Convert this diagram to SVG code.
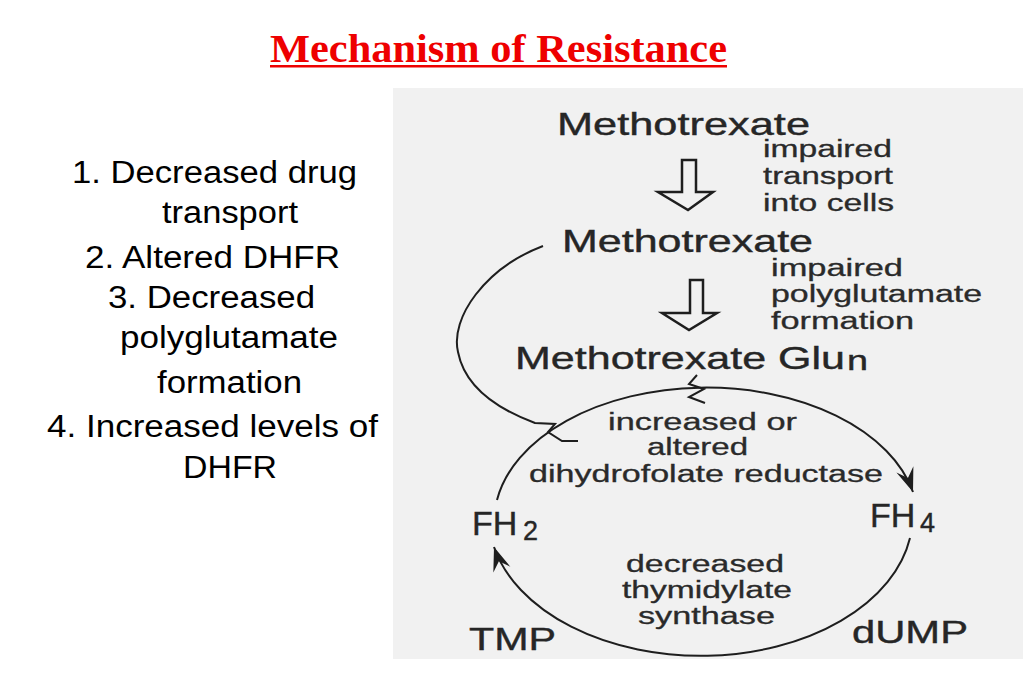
<svg xmlns="http://www.w3.org/2000/svg" width="1023" height="682" viewBox="0 0 1023 682">
<defs>
<style>
.title{font-family:"Liberation Serif",serif;font-weight:bold;font-size:41px;fill:#ee0000}
.list{font-family:"Liberation Sans",Arial,sans-serif;font-size:31px;fill:#000}
.big{font-family:"Liberation Sans",Arial,sans-serif;font-size:32px;fill:#262626;stroke:#262626;stroke-width:0.4}
.fh{font-family:"Liberation Sans",Arial,sans-serif;font-size:34px;fill:#262626;stroke:#262626;stroke-width:0.4}
.sub{font-family:"Liberation Sans",Arial,sans-serif;font-size:27px;fill:#262626;stroke:#262626;stroke-width:0.4}
.small{font-family:"Liberation Sans",Arial,sans-serif;font-size:23px;fill:#2a2a2a;stroke:#2a2a2a;stroke-width:0.3}
.line{fill:none;stroke:#1e1e1e;stroke-width:2}
.hollow{fill:#f1f1f1;stroke:#1e1e1e;stroke-width:2.5;stroke-linejoin:miter}
</style>
<marker id="barb" markerUnits="userSpaceOnUse" viewBox="-26 -12 28 24" markerWidth="28" markerHeight="24" refX="0" refY="0" orient="auto">
<path d="M0,0 L-24,-9 L-15,0 L-24,9 Z" fill="#1e1e1e"/>
</marker>
</defs>
<rect width="1023" height="682" fill="#ffffff"/>
<g id="title">
<text class="title" x="270" y="62" textLength="457" lengthAdjust="spacingAndGlyphs">Mechanism of Resistance</text>
<rect x="270" y="65" width="457" height="2.5" fill="#ee0000"/>
</g>
<g id="list">
<text class="list" x="72" y="183" textLength="285" lengthAdjust="spacingAndGlyphs">1. Decreased drug</text>
<text class="list" x="162" y="223" textLength="136" lengthAdjust="spacingAndGlyphs">transport</text>
<text class="list" x="85" y="268" textLength="255" lengthAdjust="spacingAndGlyphs">2. Altered DHFR</text>
<text class="list" x="108" y="308" textLength="207" lengthAdjust="spacingAndGlyphs">3. Decreased</text>
<text class="list" x="120" y="348" textLength="218" lengthAdjust="spacingAndGlyphs">polyglutamate</text>
<text class="list" x="157" y="393" textLength="145" lengthAdjust="spacingAndGlyphs">formation</text>
<text class="list" x="47" y="437" textLength="331" lengthAdjust="spacingAndGlyphs">4. Increased levels of</text>
<text class="list" x="183" y="478" textLength="94" lengthAdjust="spacingAndGlyphs">DHFR</text>
</g>
<rect id="scan" x="393" y="88" width="630" height="571" fill="#f1f1f1"/>
<g id="connectors">
<polygon class="hollow" points="682,160 696,160 696,192 713,192 688,210 658,192 682,192"/>
<polygon class="hollow" points="690,280 703,280 703,313 717,313 689,330 662,313 690,313"/>
<path class="line" d="M543 246 C485 268 450 318 458 352 C465 388 500 410 535 423 L555 424 L548 432 L562 441 L578 441"/>
<path class="line" d="M697 375 L689 384 L704 389 L689 397 L705 403"/>
<path class="line" marker-end="url(#barb)" d="M497 500 A212 134 0 0 1 913 492"/>
<path class="line" marker-end="url(#barb)" d="M910 538 A212 140 0 0 1 494 547"/>
</g>
<g id="mtx1">
<text class="big" x="557" y="135" textLength="253" lengthAdjust="spacingAndGlyphs">Methotrexate</text>
</g>
<g id="transport-label">
<text class="small" x="763" y="157" textLength="129" lengthAdjust="spacingAndGlyphs">impaired</text>
<text class="small" x="763" y="184" textLength="130" lengthAdjust="spacingAndGlyphs">transport</text>
<text class="small" x="763" y="211" textLength="131" lengthAdjust="spacingAndGlyphs">into cells</text>
</g>
<g id="mtx2">
<text class="big" x="562" y="252" textLength="251" lengthAdjust="spacingAndGlyphs">Methotrexate</text>
</g>
<g id="polyglu-label">
<text class="small" x="771" y="276" textLength="132" lengthAdjust="spacingAndGlyphs">impaired</text>
<text class="small" x="771" y="302" textLength="211" lengthAdjust="spacingAndGlyphs">polyglutamate</text>
<text class="small" x="771" y="329" textLength="143" lengthAdjust="spacingAndGlyphs">formation</text>
</g>
<g id="mtx-glu">
<text class="big" x="515" y="369" textLength="330" lengthAdjust="spacingAndGlyphs">Methotrexate Glu</text>
<text class="sub" x="847" y="370" textLength="21" lengthAdjust="spacingAndGlyphs">n</text>
</g>
<g id="dhfr-label">
<text class="small" x="608" y="430" textLength="189" lengthAdjust="spacingAndGlyphs">increased or</text>
<text class="small" x="647" y="455" textLength="101" lengthAdjust="spacingAndGlyphs">altered</text>
<text class="small" x="529" y="482" textLength="354" lengthAdjust="spacingAndGlyphs">dihydrofolate reductase</text>
</g>
<g id="fh2">
<text class="fh" x="472" y="535">FH</text>
<text class="sub" x="523" y="540">2</text>
</g>
<g id="fh4">
<text class="fh" x="870" y="527">FH</text>
<text class="sub" x="920" y="532">4</text>
</g>
<g id="ts-label">
<text class="small" x="626" y="572" textLength="158" lengthAdjust="spacingAndGlyphs">decreased</text>
<text class="small" x="622" y="598" textLength="170" lengthAdjust="spacingAndGlyphs">thymidylate</text>
<text class="small" x="638" y="624" textLength="137" lengthAdjust="spacingAndGlyphs">synthase</text>
</g>
<g id="tmp">
<text class="big" x="469" y="650" textLength="87" lengthAdjust="spacingAndGlyphs">TMP</text>
</g>
<g id="dump">
<text class="big" x="852" y="643" textLength="116" lengthAdjust="spacingAndGlyphs">dUMP</text>
</g>
</svg>
